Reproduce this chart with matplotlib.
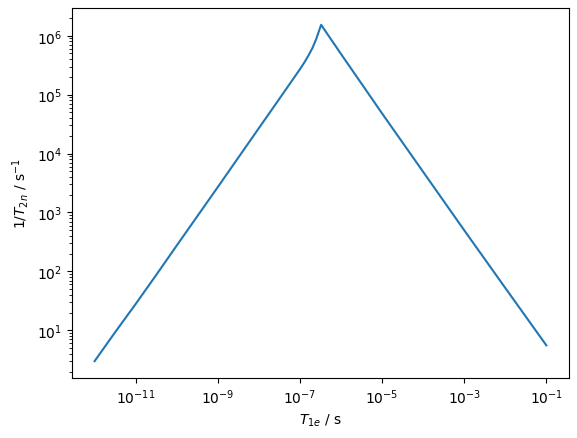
import numpy as np
import matplotlib.pyplot as plt

# electron T1 (s) and nuclear relaxation rate 1/T2n (1/s)
t1e = [1e-12, 3.16e-12, 1e-11, 3.16e-11, 1e-10, 1e-9, 1e-8, 3.16e-8, 1e-7,
       1.26e-7, 1.58e-7, 2.0e-7, 2.51e-7, 2.82e-7, 3.28e-7,
       1e-6, 1e-5, 1e-4, 1e-3, 1e-2, 1e-1]
rate = [3.0, 9.3, 28, 87, 275, 2.7e3, 2.7e4, 8.5e4, 2.7e5,
        3.45e5, 4.5e5, 6.1e5, 8.9e5, 1.13e6, 1.53e6,
        4.9e5, 4.8e4, 4.9e3, 500, 52.5, 5.57]

fig, ax = plt.subplots(figsize=(5.77, 4.39), dpi=100)
fig.subplots_adjust(left=0.1248, right=0.986, bottom=0.1367, top=0.9795)

ax.plot(t1e, rate)
ax.set_xscale('log')
ax.set_yscale('log')
ax.set_xlabel(r'$T_{1e}$ / s')
ax.set_ylabel(r'$1/T_{2n}$ / s$^{-1}$')

plt.savefig('out.png', dpi=100)
